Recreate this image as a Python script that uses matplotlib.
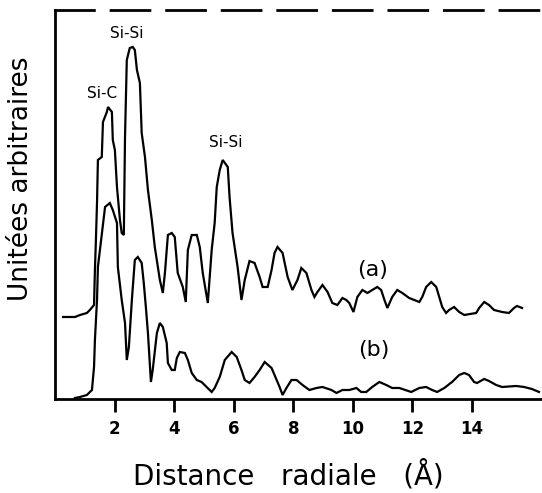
import numpy as np
import matplotlib
matplotlib.use('Agg')
from matplotlib import pyplot as plt

# radial distance (A) and intensity (arbitrary units)
r_a = [0.27, 0.67, 0.84, 1.07, 1.17, 1.31, 1.34, 1.37, 1.41, 1.44, 1.57, 1.61, 1.74, 1.78,
       1.91, 1.94, 2.01, 2.08, 2.18, 2.24, 2.31, 2.35, 2.41, 2.51, 2.61, 2.68, 2.75, 2.85,
       2.91, 3.02, 3.12, 3.25, 3.35, 3.52, 3.62, 3.69, 3.79, 3.92, 4.02, 4.12, 4.29, 4.39,
       4.46, 4.59, 4.76, 4.86, 4.96, 5.13, 5.26, 5.36, 5.43, 5.53, 5.63, 5.80, 5.86, 5.96,
       6.13, 6.26, 6.37, 6.53, 6.70, 6.87, 6.97, 7.14, 7.27, 7.37, 7.47, 7.64, 7.81, 7.97,
       8.14, 8.27, 8.44, 8.61, 8.71, 8.81, 8.98, 9.15, 9.31, 9.48, 9.65, 9.78, 9.88, 10.02,
       10.15, 10.32, 10.49, 10.65, 10.82, 10.95, 11.06, 11.16, 11.32, 11.49, 11.66, 11.89,
       12.23, 12.33, 12.46, 12.63, 12.80, 12.90, 13.00, 13.13, 13.23, 13.40, 13.57, 13.74,
       14.14, 14.24, 14.41, 14.57, 14.74, 15.01, 15.24, 15.41, 15.51, 15.68]
g_a = [82, 82, 84, 86, 89, 94, 129, 156, 196, 239, 242, 277, 287, 292,
       287, 259, 249, 212, 179, 166, 164, 262, 339, 351, 352, 349, 329, 316,
       266, 242, 209, 179, 152, 119, 106, 126, 164, 166, 162, 126, 112, 97,
       149, 164, 164, 152, 126, 96, 149, 176, 212, 229, 239, 232, 202, 166,
       132, 99, 119, 138, 136, 122, 112, 112, 129, 146, 152, 146, 122, 109,
       119, 131, 126, 109, 102, 107, 114, 107, 96, 94, 101, 99, 96, 87,
       102, 109, 106, 109, 112, 109, 99, 91, 102, 109, 106, 101,
       97, 102, 112, 117, 112, 102, 92, 86, 89, 92, 87, 84,
       86, 91, 97, 94, 89, 87, 86, 91, 93, 91]

r_b = [0.67, 0.84, 1.07, 1.24, 1.31, 1.34, 1.41, 1.44, 1.68, 1.84, 1.94, 2.08, 2.11, 2.24,
       2.35, 2.41, 2.48, 2.58, 2.68, 2.78, 2.91, 2.98, 3.05, 3.12, 3.22, 3.28, 3.42, 3.52,
       3.62, 3.75, 3.79, 3.92, 4.02, 4.09, 4.19, 4.36, 4.46, 4.59, 4.76, 4.92, 5.09, 5.26,
       5.36, 5.53, 5.70, 5.93, 6.10, 6.26, 6.37, 6.53, 6.70, 6.87, 7.04, 7.27, 7.37, 7.54,
       7.64, 7.77, 7.94, 8.11, 8.31, 8.54, 8.78, 8.98, 9.28, 9.45, 9.65, 9.88, 10.12, 10.28,
       10.45, 10.65, 10.89, 11.12, 11.32, 11.56, 11.96, 12.23, 12.46, 12.66, 12.83, 13.07,
       13.33, 13.57, 13.74, 13.90, 14.07, 14.17, 14.41, 14.57, 14.81, 15.01, 15.48, 15.75,
       16.01, 16.25]
g_b = [1, 2, 4, 9, 32, 59, 99, 132, 192, 196, 189, 176, 132, 99,
       76, 39, 52, 99, 139, 142, 136, 116, 92, 66, 17, 29, 66, 76,
       72, 56, 36, 29, 29, 41, 47, 46, 39, 26, 19, 17, 12, 7,
       11, 22, 39, 47, 42, 29, 19, 16, 22, 29, 37, 31, 24, 12,
       4, 11, 19, 19, 14, 9, 11, 12, 9, 6, 9, 9, 11, 7,
       7, 12, 17, 14, 11, 11, 7, 11, 12, 9, 7, 11,
       17, 24, 26, 24, 17, 16, 20, 18, 14, 12, 13, 12,
       10, 7]

xticks = [2, 4, 6, 8, 10, 12, 14]

fig = plt.figure(figsize=(5.42, 4.93), dpi=100)
ax = fig.add_axes([0.1015, 0.1907, 0.8985, 0.789])

ax.plot(r_a, g_a, color='black', lw=1.6, solid_joinstyle='miter')
ax.plot(r_b, g_b, color='black', lw=1.6, solid_joinstyle='miter')

ax.set_xlim(0, 16.35)
ax.set_ylim(0, 389)
ax.set_xticks(xticks)
ax.set_xticklabels([str(t) for t in xticks], fontsize=12, fontweight='bold',
                   family='DejaVu Sans')
ax.tick_params(axis='x', direction='out', length=9, width=2, pad=6)
ax.set_yticks([])

ax.spines['right'].set_visible(False)
ax.spines['left'].set_linewidth(2)
ax.spines['bottom'].set_linewidth(2)
ax.spines['top'].set_linewidth(2)
ax.spines['top'].set_linestyle((0, (14, 6)))

lab = ['Liberation Sans Narrow', 'DejaVu Sans']
ax.text(1.57, 306, 'Si-C', ha='center', va='center', fontsize=11, family=lab)
ax.text(2.41, 366, 'Si-Si', ha='center', va='center', fontsize=11, family=lab)
ax.text(5.73, 257, 'Si-Si', ha='center', va='center', fontsize=11, family=lab)
ax.text(10.65, 129, '(a)', ha='center', va='center', fontsize=16)
ax.text(10.72, 49, '(b)', ha='center', va='center', fontsize=16)

ax.set_xlabel('Distance   radiale   (Å)', fontsize=20, va='center')
ax.set_ylabel('Unitées arbitraires', fontsize=19, va='center')
ax.yaxis.set_label_coords(-0.07, 0.565)
ax.xaxis.set_label_coords(0.48, -0.195)

fig.savefig('out.png', dpi=100)
